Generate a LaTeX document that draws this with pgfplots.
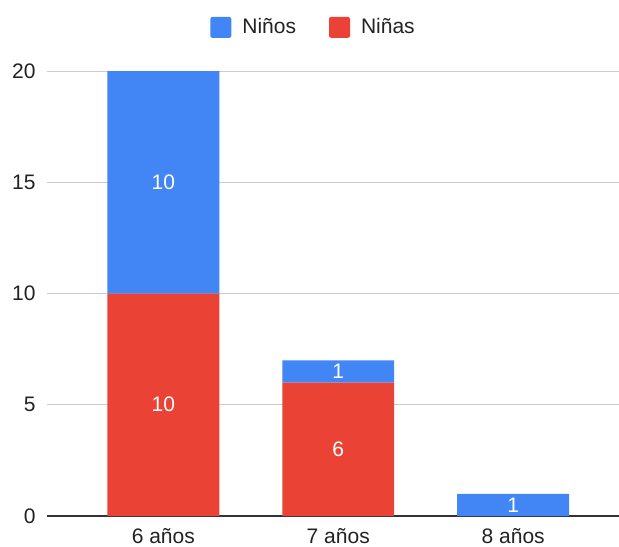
\documentclass[border=0pt]{standalone}
\usepackage{pgfplots}
\pgfplotsset{compat=1.18}
\usepackage{fontspec}
\setmainfont{Liberation Sans}
\definecolor{gblue}{HTML}{4285F4}
\definecolor{gred}{HTML}{EA4335}
\definecolor{ggrid}{HTML}{CCCCCC}
\definecolor{gtext}{HTML}{222222}
\begin{document}
\fontsize{10.5}{12}\selectfont
\begin{tikzpicture}
\useasboundingbox (-23.5pt,-15pt) rectangle (286pt,258pt);
\begin{axis}[
  at={(0,0)}, anchor=south west,
  scale only axis, width=286pt, height=222.5pt,
  ybar stacked, bar width=0.640,
  xmin=-0.665, xmax=2.605, ymin=0, ymax=20,
  xtick={0,1,2}, xticklabels={6 años,7 años,8 años},
  ytick={0,5,10,15,20},
  axis x line*=bottom, axis y line*=left,
  y axis line style={draw=none},
  x axis line style={draw=black!80, line width=0.7pt, -},
  ymajorgrids, grid style={ggrid, line width=0.5pt},
  major tick length=0pt,
  tick label style={font=\fontsize{10.5}{12}\selectfont, text=gtext},
  /pgf/number format/assume math mode=true,
  yticklabel style={xshift=-2pt},
  xticklabel style={yshift=-2.5pt},
  legend style={at={(0.4677,1.098)}, anchor=center, draw=none, fill=none,
    legend columns=2, font=\fontsize{10.5}{12}\selectfont, text=gtext,
    /tikz/every even column/.append style={column sep=14.5pt},
    /tikz/every odd column/.append style={column sep=0pt}},
  legend cell align=left,
  reverse legend,
  legend image code/.code={\fill[#1, rounded corners=1pt] (0pt,-5.2pt) rectangle (10.5pt,5.2pt);},
]
\addplot[fill=gred, draw=none] coordinates {(0,10) (1,6) (2,0)};
\addlegendentry{\hspace{3.5pt}Niñas}
\addplot[fill=gblue, draw=none] coordinates {(0,10) (1,1) (2,1)};
\addlegendentry{\hspace{3.5pt}Niños}
\end{axis}
\begin{axis}[
  at={(0,0)}, anchor=south west,
  scale only axis, width=286pt, height=222.5pt,
  xmin=-0.665, xmax=2.605, ymin=0, ymax=20,
  hide axis,
]
\addplot[only marks, mark=none, nodes near coords, point meta=explicit symbolic,
  every node near coord/.style={anchor=center, text=white, font=\fontsize{10.5}{12}\selectfont}]
  coordinates {(0,5)[10] (0,15)[10] (1,3)[6] (1,6.5)[1] (2,0.5)[1]};
\end{axis}
\end{tikzpicture}
\end{document}
